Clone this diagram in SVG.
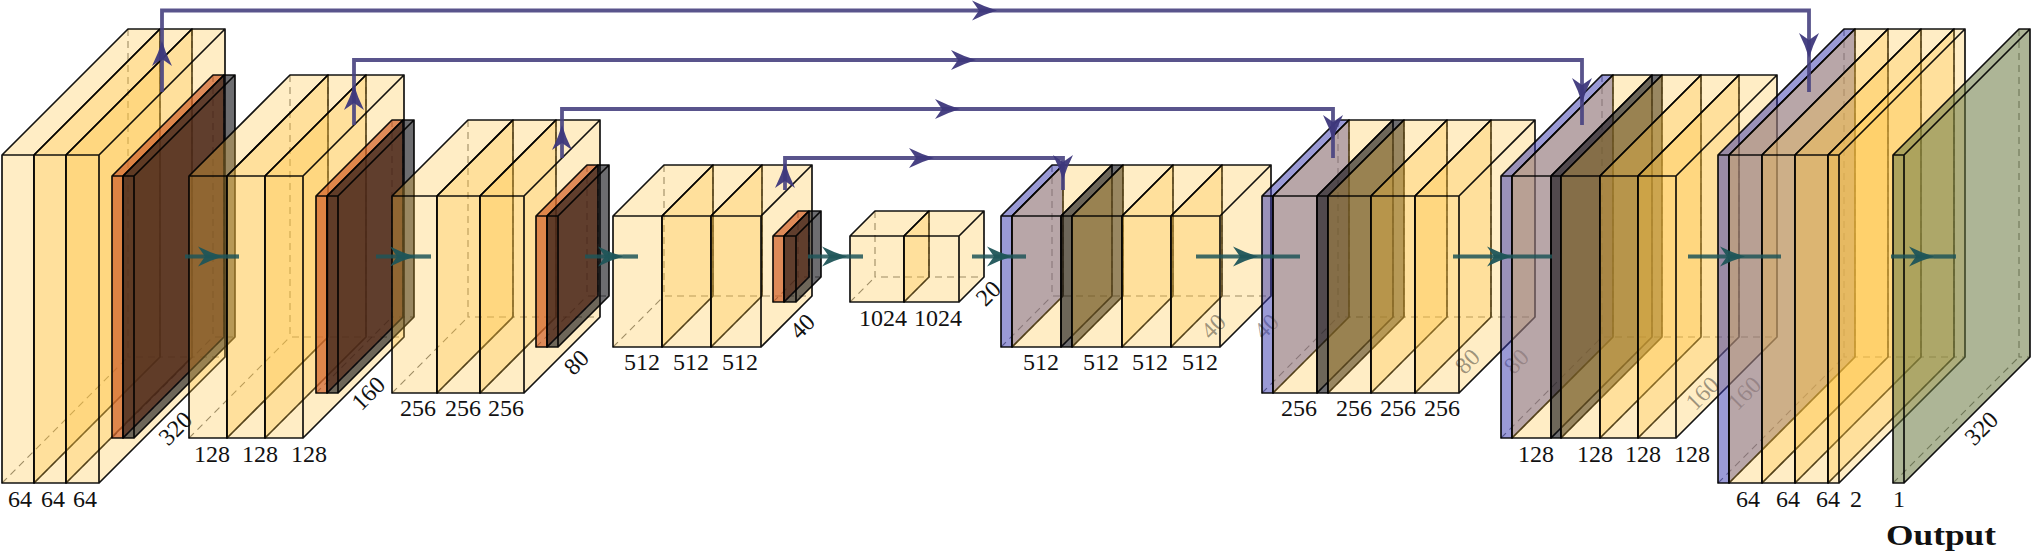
<svg xmlns="http://www.w3.org/2000/svg" width="2031" height="553" viewBox="0 0 2031 553">
<style>
.f{stroke:#000;stroke-width:1.7;stroke-opacity:.92;stroke-linejoin:round}
.d{fill:none;stroke:#000;stroke-width:1.1;stroke-opacity:.55;stroke-dasharray:7 5}
.y .f{fill:#FFC33E;fill-opacity:.3}
.o .f{fill:#D05F2A;fill-opacity:.7}
.k .f{fill:#0c0c10;fill-opacity:.6}
.b .f{fill:#3535AD;fill-opacity:.5}
.g .f{fill:#6A7840;fill-opacity:.55}
text{font-family:"Liberation Serif","Times New Roman",serif;font-size:24px;text-anchor:middle;fill:#111}
.h{fill-opacity:.42}
.bold{font-weight:bold;font-size:29px;text-anchor:start}
.pu{fill:none;stroke:#47417F;stroke-width:3.8;stroke-opacity:.9}
.te{fill:none;stroke:#1F5558;stroke-width:4.2;stroke-opacity:.85}
.hp{fill:#3E387C;fill-opacity:.95}
.ht{fill:#1F5558;fill-opacity:.95}
</style>
<defs>
<marker id="mp" markerUnits="userSpaceOnUse" markerWidth="30" markerHeight="24" refX="28" refY="12" orient="auto"><path class="hp" d="M28 12Q16 15.5 3 22L10 12L3 2Q16 8.5 28 12Z"/></marker>
<marker id="mt" markerUnits="userSpaceOnUse" markerWidth="30" markerHeight="24" refX="28" refY="12" orient="auto"><path class="ht" d="M28 12Q16 15.5 3 22L10 12L3 2Q16 8.5 28 12Z"/></marker>
</defs>

<g id="enc1">
<g id="enc1-a" class="y"><path class="d" d="M128 29V357H160M2 483L128 357"/><path class="f" d="M2 155H34V483H2ZM34 155L160 29V357L34 483ZM2 155L128 29H160L34 155Z"/><text x="20" y="507">64</text></g>
<g id="enc1-b" class="y"><path class="d" d="M160 29V357H192M34 483L160 357"/><path class="f" d="M34 155H66V483H34ZM66 155L192 29V357L66 483ZM34 155L160 29H192L66 155Z"/><text x="53" y="507">64</text></g>
<g id="enc1-c" class="y"><path class="d" d="M192 29V357H225M66 483L192 357"/><path class="f" d="M66 155H99V483H66ZM99 155L225 29V357L99 483ZM66 155L192 29H225L99 155Z"/><text x="85" y="507">64</text></g>
<text x="176" y="436" transform="rotate(-45 176 429)">320</text>
</g>
<g id="pool1">
<g id="pool1-a" class="o"><path class="d" d="M213 75V337H224M112 438L213 337"/><path class="f" d="M112 176H123V438H112ZM123 176L224 75V337L123 438ZM112 176L213 75H224L123 176Z"/></g>
<g id="pool1-b" class="k"><path class="d" d="M224 75V337H235M123 438L224 337"/><path class="f" d="M123 176H134V438H123ZM134 176L235 75V337L134 438ZM123 176L224 75H235L134 176Z"/></g>
</g>
<g id="enc2">
<g id="enc2-a" class="y"><path class="d" d="M290 75V337H328M189 438L290 337"/><path class="f" d="M189 176H227V438H189ZM227 176L328 75V337L227 438ZM189 176L290 75H328L227 176Z"/><text x="212" y="462">128</text></g>
<g id="enc2-b" class="y"><path class="d" d="M328 75V337H366M227 438L328 337"/><path class="f" d="M227 176H265V438H227ZM265 176L366 75V337L265 438ZM227 176L328 75H366L265 176Z"/><text x="260" y="462">128</text></g>
<g id="enc2-c" class="y"><path class="d" d="M366 75V337H404M265 438L366 337"/><path class="f" d="M265 176H303V438H265ZM303 176L404 75V337L303 438ZM265 176L366 75H404L303 176Z"/><text x="309" y="462">128</text></g>
<text x="369" y="401" transform="rotate(-45 369 394)">160</text>
</g>
<g id="pool2">
<g id="pool2-a" class="o"><path class="d" d="M392 120V317H403M316 393L392 317"/><path class="f" d="M316 196H327V393H316ZM327 196L403 120V317L327 393ZM316 196L392 120H403L327 196Z"/></g>
<g id="pool2-b" class="k"><path class="d" d="M403 120V317H414M327 393L403 317"/><path class="f" d="M327 196H338V393H327ZM338 196L414 120V317L338 393ZM327 196L403 120H414L338 196Z"/></g>
</g>
<g id="enc3">
<g id="enc3-a" class="y"><path class="d" d="M468 120V317H513M392 393L468 317"/><path class="f" d="M392 196H437V393H392ZM437 196L513 120V317L437 393ZM392 196L468 120H513L437 196Z"/><text x="418" y="416">256</text></g>
<g id="enc3-b" class="y"><path class="d" d="M513 120V317H556M437 393L513 317"/><path class="f" d="M437 196H480V393H437ZM480 196L556 120V317L480 393ZM437 196L513 120H556L480 196Z"/><text x="463" y="416">256</text></g>
<g id="enc3-c" class="y"><path class="d" d="M556 120V317H600M480 393L556 317"/><path class="f" d="M480 196H524V393H480ZM524 196L600 120V317L524 393ZM480 196L556 120H600L524 196Z"/><text x="506" y="416">256</text></g>
<text x="577" y="370" transform="rotate(-45 577 363)">80</text>
</g>
<g id="pool3">
<g id="pool3-a" class="o"><path class="d" d="M587 165V296H598M536 347L587 296"/><path class="f" d="M536 216H547V347H536ZM547 216L598 165V296L547 347ZM536 216L587 165H598L547 216Z"/></g>
<g id="pool3-b" class="k"><path class="d" d="M598 165V296H609M547 347L598 296"/><path class="f" d="M547 216H558V347H547ZM558 216L609 165V296L558 347ZM547 216L598 165H609L558 216Z"/></g>
</g>
<g id="enc4">
<g id="enc4-a" class="y"><path class="d" d="M664 165V296H713M613 347L664 296"/><path class="f" d="M613 216H662V347H613ZM662 216L713 165V296L662 347ZM613 216L664 165H713L662 216Z"/><text x="642" y="370">512</text></g>
<g id="enc4-b" class="y"><path class="d" d="M713 165V296H762M662 347L713 296"/><path class="f" d="M662 216H711V347H662ZM711 216L762 165V296L711 347ZM662 216L713 165H762L711 216Z"/><text x="691" y="370">512</text></g>
<g id="enc4-c" class="y"><path class="d" d="M762 165V296H812M711 347L762 296"/><path class="f" d="M711 216H761V347H711ZM761 216L812 165V296L761 347ZM711 216L762 165H812L761 216Z"/><text x="740" y="370">512</text></g>
<text x="803" y="334" transform="rotate(-45 803 327)">40</text>
</g>
<g id="pool4">
<g id="pool4-a" class="o"><path class="d" d="M798 211V277H809M773 302L798 277"/><path class="f" d="M773 236H784V302H773ZM784 236L809 211V277L784 302ZM773 236L798 211H809L784 236Z"/></g>
<g id="pool4-b" class="k"><path class="d" d="M809 211V277H821M784 302L809 277"/><path class="f" d="M784 236H796V302H784ZM796 236L821 211V277L796 302ZM784 236L809 211H821L796 236Z"/></g>
</g>
<g id="bottleneck">
<g id="bottleneck-a" class="y"><path class="d" d="M875 211V277H929M850 302L875 277"/><path class="f" d="M850 236H904V302H850ZM904 236L929 211V277L904 302ZM850 236L875 211H929L904 236Z"/><text x="883" y="326">1024</text></g>
<g id="bottleneck-b" class="y"><path class="d" d="M929 211V277H984M904 302L929 277"/><path class="f" d="M904 236H959V302H904ZM959 236L984 211V277L959 302ZM904 236L929 211H984L959 236Z"/><text x="938" y="326">1024</text></g>
<text x="989" y="301" transform="rotate(-45 989 294)">20</text>
</g>
<g id="dec1">
<g id="dec1-a" class="b"><path class="d" d="M1052 165V296H1063M1001 347L1052 296"/><path class="f" d="M1001 216H1012V347H1001ZM1012 216L1063 165V296L1012 347ZM1001 216L1052 165H1063L1012 216Z"/></g>
<g id="dec1-b" class="y"><path class="d" d="M1063 165V296H1112M1012 347L1063 296"/><path class="f" d="M1012 216H1061V347H1012ZM1061 216L1112 165V296L1061 347ZM1012 216L1063 165H1112L1061 216Z"/><text x="1041" y="370">512</text></g>
<g id="dec1-c" class="k"><path class="d" d="M1112 165V296H1123M1061 347L1112 296"/><path class="f" d="M1061 216H1072V347H1061ZM1072 216L1123 165V296L1072 347ZM1061 216L1112 165H1123L1072 216Z"/></g>
<g id="dec1-d" class="y"><path class="d" d="M1123 165V296H1173M1072 347L1123 296"/><path class="f" d="M1072 216H1122V347H1072ZM1122 216L1173 165V296L1122 347ZM1072 216L1123 165H1173L1122 216Z"/><text x="1101" y="370">512</text></g>
<g id="dec1-e" class="y"><path class="d" d="M1173 165V296H1222M1122 347L1173 296"/><path class="f" d="M1122 216H1171V347H1122ZM1171 216L1222 165V296L1171 347ZM1122 216L1173 165H1222L1171 216Z"/><text x="1150" y="370">512</text></g>
<g id="dec1-f" class="y"><path class="d" d="M1222 165V296H1271M1171 347L1222 296"/><path class="f" d="M1171 216H1220V347H1171ZM1220 216L1271 165V296L1220 347ZM1171 216L1222 165H1271L1220 216Z"/><text x="1200" y="370">512</text></g>
<text class="h" x="1214" y="334" transform="rotate(-45 1214 327)">40</text>
<text class="h" x="1267" y="334" transform="rotate(-45 1267 327)">40</text>
</g>
<g id="dec2">
<g id="dec2-a" class="b"><path class="d" d="M1338 120V317H1349M1262 393L1338 317"/><path class="f" d="M1262 196H1273V393H1262ZM1273 196L1349 120V317L1273 393ZM1262 196L1338 120H1349L1273 196Z"/></g>
<g id="dec2-b" class="y"><path class="d" d="M1349 120V317H1393M1273 393L1349 317"/><path class="f" d="M1273 196H1317V393H1273ZM1317 196L1393 120V317L1317 393ZM1273 196L1349 120H1393L1317 196Z"/><text x="1299" y="416">256</text></g>
<g id="dec2-c" class="k"><path class="d" d="M1393 120V317H1404M1317 393L1393 317"/><path class="f" d="M1317 196H1328V393H1317ZM1328 196L1404 120V317L1328 393ZM1317 196L1393 120H1404L1328 196Z"/></g>
<g id="dec2-d" class="y"><path class="d" d="M1404 120V317H1447M1328 393L1404 317"/><path class="f" d="M1328 196H1371V393H1328ZM1371 196L1447 120V317L1371 393ZM1328 196L1404 120H1447L1371 196Z"/><text x="1354" y="416">256</text></g>
<g id="dec2-e" class="y"><path class="d" d="M1447 120V317H1491M1371 393L1447 317"/><path class="f" d="M1371 196H1415V393H1371ZM1415 196L1491 120V317L1415 393ZM1371 196L1447 120H1491L1415 196Z"/><text x="1398" y="416">256</text></g>
<g id="dec2-f" class="y"><path class="d" d="M1491 120V317H1535M1415 393L1491 317"/><path class="f" d="M1415 196H1459V393H1415ZM1459 196L1535 120V317L1459 393ZM1415 196L1491 120H1535L1459 196Z"/><text x="1442" y="416">256</text></g>
<text class="h" x="1468" y="369" transform="rotate(-45 1468 362)">80</text>
<text class="h" x="1517" y="369" transform="rotate(-45 1517 362)">80</text>
</g>
<g id="dec3">
<g id="dec3-a" class="b"><path class="d" d="M1602 75V337H1613M1501 438L1602 337"/><path class="f" d="M1501 176H1512V438H1501ZM1512 176L1613 75V337L1512 438ZM1501 176L1602 75H1613L1512 176Z"/></g>
<g id="dec3-b" class="y"><path class="d" d="M1613 75V337H1652M1512 438L1613 337"/><path class="f" d="M1512 176H1551V438H1512ZM1551 176L1652 75V337L1551 438ZM1512 176L1613 75H1652L1551 176Z"/><text x="1536" y="462">128</text></g>
<g id="dec3-c" class="k"><path class="d" d="M1652 75V337H1662M1551 438L1652 337"/><path class="f" d="M1551 176H1561V438H1551ZM1561 176L1662 75V337L1561 438ZM1551 176L1652 75H1662L1561 176Z"/></g>
<g id="dec3-d" class="y"><path class="d" d="M1662 75V337H1701M1561 438L1662 337"/><path class="f" d="M1561 176H1600V438H1561ZM1600 176L1701 75V337L1600 438ZM1561 176L1662 75H1701L1600 176Z"/><text x="1595" y="462">128</text></g>
<g id="dec3-e" class="y"><path class="d" d="M1701 75V337H1739M1600 438L1701 337"/><path class="f" d="M1600 176H1638V438H1600ZM1638 176L1739 75V337L1638 438ZM1600 176L1701 75H1739L1638 176Z"/><text x="1643" y="462">128</text></g>
<g id="dec3-f" class="y"><path class="d" d="M1739 75V337H1777M1638 438L1739 337"/><path class="f" d="M1638 176H1676V438H1638ZM1676 176L1777 75V337L1676 438ZM1638 176L1739 75H1777L1676 176Z"/><text x="1692" y="462">128</text></g>
<text class="h" x="1703" y="401" transform="rotate(-45 1703 394)">160</text>
<text class="h" x="1745" y="401" transform="rotate(-45 1745 394)">160</text>
</g>
<g id="dec4">
<g id="dec4-a" class="b"><path class="d" d="M1844 29V357H1855M1718 483L1844 357"/><path class="f" d="M1718 155H1729V483H1718ZM1729 155L1855 29V357L1729 483ZM1718 155L1844 29H1855L1729 155Z"/></g>
<g id="dec4-b" class="y"><path class="d" d="M1855 29V357H1888M1729 483L1855 357"/><path class="f" d="M1729 155H1762V483H1729ZM1762 155L1888 29V357L1762 483ZM1729 155L1855 29H1888L1762 155Z"/><text x="1748" y="507">64</text></g>
<g id="dec4-c" class="y"><path class="d" d="M1888 29V357H1921M1762 483L1888 357"/><path class="f" d="M1762 155H1795V483H1762ZM1795 155L1921 29V357L1795 483ZM1762 155L1888 29H1921L1795 155Z"/><text x="1788" y="507">64</text></g>
<g id="dec4-d" class="y"><path class="d" d="M1921 29V357H1954M1795 483L1921 357"/><path class="f" d="M1795 155H1828V483H1795ZM1828 155L1954 29V357L1828 483ZM1795 155L1921 29H1954L1828 155Z"/><text x="1828" y="507">64</text></g>
<g id="dec4-e" class="y"><path class="d" d="M1954 29V357H1965M1828 483L1954 357"/><path class="f" d="M1828 155H1839V483H1828ZM1839 155L1965 29V357L1839 483ZM1828 155L1954 29H1965L1839 155Z"/><text x="1856" y="507">2</text></g>
</g>
<g id="output" class="g">
<path class="d" d="M2019 29V357H2030M1893 483L2019 357"/>
<path class="f" d="M1893 155H1904V483H1893ZM1904 155L2030 29V357L1904 483ZM1893 155L2019 29H2030L1904 155Z"/>
<text x="1899" y="507">1</text>
<text x="1982" y="436" transform="rotate(-45 1982 429)">320</text>
<text class="bold" x="1886" y="545" textLength="110" lengthAdjust="spacingAndGlyphs">Output</text>
</g>

<g id="connectors">
<g id="skip1"><path class="pu" d="M162 92V41" marker-end="url(#mp)"/><path class="pu" d="M162 41V10.5H997" marker-end="url(#mp)"/><path class="pu" d="M997 10.5H1809V58" marker-end="url(#mp)"/><path class="pu" d="M1809 58V92"/></g>
<g id="skip2"><path class="pu" d="M354 125V85" marker-end="url(#mp)"/><path class="pu" d="M354 85V60H976" marker-end="url(#mp)"/><path class="pu" d="M976 60H1582V103" marker-end="url(#mp)"/><path class="pu" d="M1582 103V125"/></g>
<g id="skip3"><path class="pu" d="M562 158V125" marker-end="url(#mp)"/><path class="pu" d="M562 125V109H960" marker-end="url(#mp)"/><path class="pu" d="M960 109H1333V140" marker-end="url(#mp)"/><path class="pu" d="M1333 140V158"/></g>
<g id="skip4"><path class="pu" d="M785 190V163" marker-end="url(#mp)"/><path class="pu" d="M785 163V158H934" marker-end="url(#mp)"/><path class="pu" d="M934 158H1063V180" marker-end="url(#mp)"/><path class="pu" d="M1063 180V190"/></g>
<g id="flow1"><path class="te" d="M185 256.5H223" marker-end="url(#mt)"/><path class="te" d="M223 256.5H239"/></g>
<g id="flow2"><path class="te" d="M376 256.5H415" marker-end="url(#mt)"/><path class="te" d="M415 256.5H431"/></g>
<g id="flow3"><path class="te" d="M585 256.5H623" marker-end="url(#mt)"/><path class="te" d="M623 256.5H638"/></g>
<g id="flow4"><path class="te" d="M808 256.5H847" marker-end="url(#mt)"/><path class="te" d="M847 256.5H863"/></g>
<g id="flow5"><path class="te" d="M972 256.5H1012" marker-end="url(#mt)"/><path class="te" d="M1012 256.5H1026"/></g>
<g id="flow6"><path class="te" d="M1196 256.5H1258" marker-end="url(#mt)"/><path class="te" d="M1258 256.5H1300"/></g>
<g id="flow7"><path class="te" d="M1453 256.5H1512" marker-end="url(#mt)"/><path class="te" d="M1512 256.5H1552"/></g>
<g id="flow8"><path class="te" d="M1688 256.5H1745" marker-end="url(#mt)"/><path class="te" d="M1745 256.5H1781"/></g>
<g id="flow9"><path class="te" d="M1891 256.5H1934" marker-end="url(#mt)"/><path class="te" d="M1934 256.5H1956"/></g>
</g>
</svg>
